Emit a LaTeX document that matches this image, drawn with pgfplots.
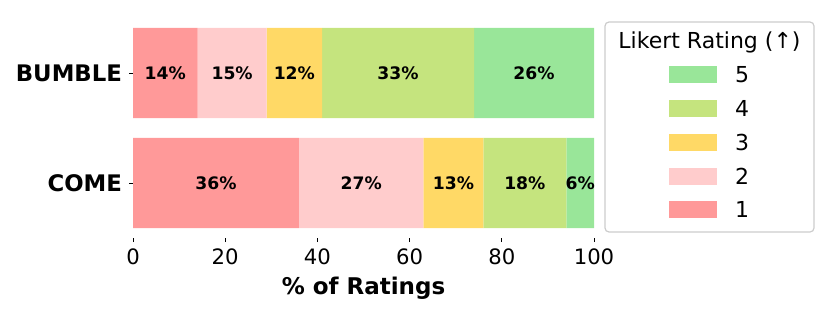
\documentclass[border=0pt]{standalone}
\usepackage{pgfplots}
\pgfplotsset{compat=1.18}
\usepackage{fontspec}
\setmainfont{DejaVu Sans}
\definecolor{c1}{HTML}{FF9999}
\definecolor{c2}{HTML}{FFCCCC}
\definecolor{c3}{HTML}{FFD966}
\definecolor{c4}{HTML}{C5E47E}
\definecolor{c5}{HTML}{99E699}
\begin{document}
\begin{tikzpicture}
\useasboundingbox (0,0) rectangle (415pt,156pt);
\begin{axis}[
  at={(66.5pt,37pt)}, anchor=south west,
  scale only axis, width=230.5pt, height=110pt,
  xmin=0, xmax=100, ymin=-0.5, ymax=1.5,
  xbar stacked, bar width=0.82,
  axis x line*=bottom, axis y line*=left,
  axis line style={draw=none},
  tick align=outside, major tick length=2pt,
  tick style={black, line width=0.5pt},
  xtick={0,20,40,60,80,100},
  ytick={0,1}, yticklabels={COME,BUMBLE},
  /pgf/number format/assume math mode=true,
  xticklabel style={font=\fontsize{10.6}{12}\selectfont},
  yticklabel style={font=\bfseries\fontsize{11.4}{13}\selectfont},
  xlabel={\% of Ratings},
  xlabel style={font=\bfseries\fontsize{11.5}{13}\selectfont, yshift=1pt},
  reverse legend,
  legend image code/.code={\fill[#1] (0pt,-4.25pt) rectangle (24pt,4.25pt);},
  legend style={draw=none, fill=none, inner sep=0pt, outer sep=0pt,
    at={(1.1627,0.781)}, anchor=north west,
    row sep=8.4pt, column sep=9pt,
    nodes={inner sep=0pt, text depth=0pt, font=\fontsize{11}{13}\selectfont},
    cells={anchor=center}},
]
\addplot[fill=c1, draw=none] coordinates {(36,0) (14,1)};
\addlegendentry{1}
\addplot[fill=c2, draw=none] coordinates {(27,0) (15,1)};
\addlegendentry{2}
\addplot[fill=c3, draw=none] coordinates {(13,0) (12,1)};
\addlegendentry{3}
\addplot[fill=c4, draw=none] coordinates {(18,0) (33,1)};
\addlegendentry{4}
\addplot[fill=c5, draw=none] coordinates {(6,0) (26,1)};
\addlegendentry{5}
\end{axis}
\begin{axis}[
  at={(66.5pt,37pt)}, anchor=south west,
  scale only axis, width=230.5pt, height=110pt,
  xmin=0, xmax=100, ymin=-0.5, ymax=1.5,
  hide axis,
  /pgf/number format/assume math mode=true,
]
\addplot[only marks, mark=none,
  point meta=explicit,
  nodes near coords={\pgfmathprintnumber{\pgfplotspointmeta}\%},
  every node near coord/.style={anchor=center, inner sep=0pt, font=\bfseries\fontsize{8.6}{10}\selectfont}]
  table[meta=v] {
x y v
18 0 36
49.5 0 27
69.5 0 13
85 0 18
97 0 6
7 1 14
21.5 1 15
35 1 12
57.5 1 33
87 1 26
};
\end{axis}
\draw[draw=black!20, rounded corners=2pt, line width=0.6pt] (302.5pt,40pt) rectangle (407pt,145pt);
\node[font=\fontsize{11}{13}\selectfont] at (354.75pt,135pt) {Likert Rating (↑)};
\end{tikzpicture}
\end{document}
